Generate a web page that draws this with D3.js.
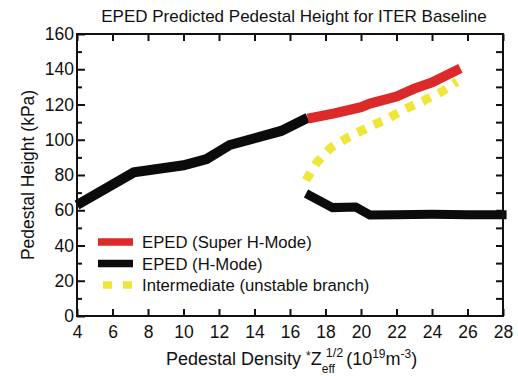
<!DOCTYPE html>
<html>
<head>
<meta charset="utf-8">
<script src="https://cdn.jsdelivr.net/npm/d3@7"></script>
<style>
  body { margin: 0; background: #fff; }
  text { font-family: "Liberation Sans", Arial, sans-serif; fill: #111; }
</style>
</head>
<body>
<script>
// data
const hmodeUpperX = [4, 7.2, 10, 11.3, 12.6, 15.5, 17];
const hmodeUpperY = [63, 81.5, 85.5, 89, 97, 105, 112.5];
const hmodeLowerX = [16.9, 18.4, 19.7, 20.5, 22, 24, 26, 28.2];
const hmodeLowerY = [69.5, 61.5, 61.8, 57.3, 57.5, 57.7, 57.5, 57.5];
const superX = [17, 18.5, 20, 20.5, 22, 23, 24, 25.6];
const superY = [112, 115, 118.5, 120.5, 124.5, 129, 132.5, 140.5];
const interX = [16.9, 17.5, 18.3, 19.3, 20.4, 21.5, 22.5, 23.5, 24.5, 25.4];
const interY = [77, 87, 95.5, 101.5, 107, 112, 117.5, 122, 127, 133];
const xTicks = d3.range(4, 29, 2);
const yTicks = d3.range(0, 161, 20);
const legendLabels = ['EPED (Super H-Mode)', 'EPED (H-Mode)', 'Intermediate (unstable branch)'];

const W = 518, H = 376;
const svg = d3.select('body').append('svg').attr('width', W).attr('height', H);

const x = d3.scaleLinear().domain([4, 28]).range([77, 503]);
const y = d3.scaleLinear().domain([0, 160]).range([316, 34]);

const line = d3.line().x(d => x(d[0])).y(d => y(d[1]));
const zip = (a, b) => a.map((v, i) => [v, b[i]]);

// lines
const plot = svg.append('g');
plot.append('path')
    .attr('d', line(zip(hmodeUpperX, hmodeUpperY)))
    .attr('fill', 'none').attr('stroke', '#0b0b0b').attr('stroke-width', 10);
plot.append('path')
    .attr('d', line(zip(hmodeLowerX, hmodeLowerY)))
    .attr('fill', 'none').attr('stroke', '#0b0b0b').attr('stroke-width', 9);
plot.append('path')
    .attr('d', line(zip(superX, superY)))
    .attr('fill', 'none').attr('stroke', '#dc2a2a').attr('stroke-width', 10);
plot.append('path')
    .attr('d', line(zip(interX, interY)))
    .attr('fill', 'none').attr('stroke', '#efe737').attr('stroke-width', 9)
    .attr('stroke-dasharray', '9,9');

// frame and ticks
svg.append('rect')
    .attr('x', x(4)).attr('y', y(160))
    .attr('width', x(28) - x(4)).attr('height', y(0) - y(160))
    .attr('fill', 'none').attr('stroke', '#111').attr('stroke-width', 2);

const axBottom = d3.axisBottom(x).tickValues(xTicks).tickSizeInner(-7).tickSizeOuter(0).tickPadding(10);
const gb = svg.append('g').attr('transform', `translate(0,${y(0)})`).call(axBottom);
const axTop = d3.axisTop(x).tickValues(xTicks).tickSizeInner(-7).tickSizeOuter(0).tickFormat('');
const gt = svg.append('g').attr('transform', `translate(0,${y(160)})`).call(axTop);
const axLeft = d3.axisLeft(y).tickValues(yTicks).tickSizeInner(-8).tickSizeOuter(0).tickPadding(4);
const gl = svg.append('g').attr('transform', `translate(${x(4)},0)`).call(axLeft);
const axLeftMinor = d3.axisLeft(y).tickValues(d3.range(10, 160, 20)).tickSizeInner(-5).tickSizeOuter(0).tickFormat('');
const glm = svg.append('g').attr('transform', `translate(${x(4)},0)`).call(axLeftMinor);
const axRight = d3.axisRight(y).tickValues(d3.range(10, 160, 10)).tickSizeInner(-7).tickSizeOuter(0).tickFormat('');
const gr = svg.append('g').attr('transform', `translate(${x(28)},0)`).call(axRight);

[gb, gt, gl, glm, gr].forEach(g => {
    g.select('.domain').remove();
    g.selectAll('.tick line').attr('stroke', '#111').attr('stroke-width', 2);
    g.selectAll('.tick text').attr('font-size', 17.5).attr('fill', '#111')
        .attr('font-family', '"Liberation Sans", Arial, sans-serif');
});
gl.selectAll('.tick text').attr('dx', 1);

// title
svg.append('text')
    .attr('x', 294).attr('y', 22)
    .attr('text-anchor', 'middle').attr('font-size', 17)
    .text('EPED Predicted Pedestal Height for ITER Baseline');

// y label
svg.append('text')
    .attr('transform', 'translate(34,175) rotate(-90)')
    .attr('text-anchor', 'middle').attr('font-size', 17.5)
    .text('Pedestal Height (kPa)');

// x label with sub/superscripts
const xl = svg.append('text')
    .attr('x', 166).attr('y', 365)
    .attr('font-size', 18);
xl.append('tspan').text('Pedestal Density ');
xl.append('tspan').text('*').attr('font-size', 12).attr('dy', -5);
xl.append('tspan').text('Z').attr('dy', 5);
const eff = xl.append('tspan').text('eff').attr('font-size', 12).attr('dy', 8);
const paren = xl.append('tspan').text(' (10').attr('dy', -8);
xl.append('tspan').text('19').attr('font-size', 12).attr('dy', -7);
xl.append('tspan').text('m').attr('dy', 7);
xl.append('tspan').text('-3').attr('font-size', 12).attr('dy', -7);
xl.append('tspan').text(')').attr('dy', 7);
const effX = eff.node().getStartPositionOfChar(0).x;
const effEnd = eff.node().getEndPositionOfChar(2).x;
const half = svg.append('text')
    .attr('x', effX + 4).attr('y', 357)
    .attr('font-size', 12.5)
    .text('1/2');
const halfEnd = effX + 4 + half.node().getComputedTextLength();
paren.attr('dx', Math.max(0, halfEnd - effEnd - 2));

// legend
const legendStyle = [
    { color: '#dc2a2a', x1: 98, dash: null },
    { color: '#0b0b0b', x1: 98, dash: null },
    { color: '#efe737', x1: 103, dash: '9,11' }
];
const legend = svg.append('g');
legendLabels.forEach((lab, i) => {
    const ly = 242 + i * 21.5;
    const s = legendStyle[i];
    legend.append('line')
        .attr('x1', s.x1).attr('x2', 133).attr('y1', ly).attr('y2', ly)
        .attr('stroke', s.color).attr('stroke-width', 7.5)
        .attr('stroke-dasharray', s.dash);
    legend.append('text')
        .attr('x', 142).attr('y', ly + 6)
        .attr('font-size', 16.7)
        .text(lab);
});
</script>
</body>
</html>
